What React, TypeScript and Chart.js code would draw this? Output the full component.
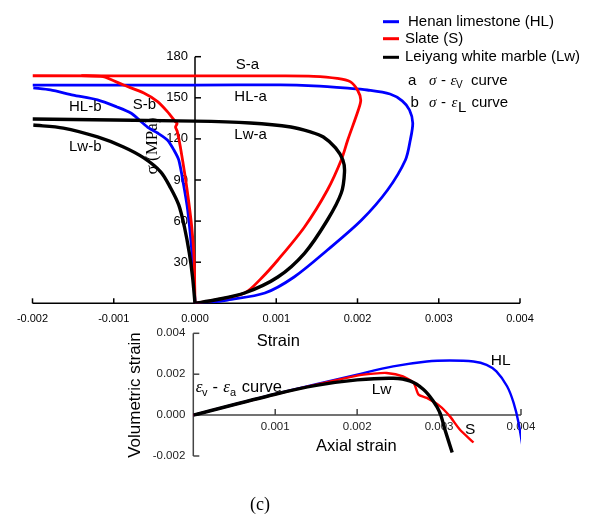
import React, { useEffect, useRef } from 'react';
import { Chart, registerables } from 'chart.js';

Chart.register(...registerables);

// ---------- Top chart: stress (MPa) vs strain ----------
const TOP_X_MIN = -0.002;
const TOP_X_MAX = 0.004;
const TOP_Y_MIN = 0;
const TOP_Y_MAX = 180;
const TOP_X_TICKS = [-0.002, -0.001, 0, 0.001, 0.002, 0.003, 0.004];
const TOP_X_LABELS = ['-0.002', '-0.001', '0.000', '0.001', '0.002', '0.003', '0.004'];
const TOP_Y_TICKS = [30, 60, 90, 120, 150, 180];
const TOP_Y_LABELS = ['30', '60', '90', '120', '150', '180'];

// Henan limestone (HL)
const HL_A_STRAIN = [0, 0.0002, 0.0004, 0.00086, 0.00122, 0.00163, 0.00205, 0.00237, 0.00259, 0.00265, 0.00268, 0.00264, 0.00255, 0.0024, 0.00212, 0.00188, 0.00146, 0.00105, 0, -0.002];
const HL_A_STRESS = [0, 0.8, 2.4, 7.5, 19.2, 38.9, 60.8, 82.7, 104.6, 119.2, 131.6, 141.1, 147.8, 152.8, 155.7, 157.0, 158.7, 159.4, 159.3, 159.3];
const HL_B_STRAIN = [-0.00199, -0.00178, -0.0015, -0.0012, -0.00096, -0.00079, -0.00067, -0.00057, -0.00046, -0.00034, -0.00026, -0.0002, -0.00014, -0.00009, -0.00004, -0.00001, 0];
const HL_B_STRESS = [157.2, 155.7, 152.0, 148.5, 143.3, 138.9, 133.0, 128.0, 124.3, 119.2, 111.9, 104.6, 86.4, 68.1, 38.9, 13.4, 0];

// Slate (S)
const S_A_STRAIN = [0, 0.00024, 0.00061, 0.00082, 0.00102, 0.00135, 0.00163, 0.0018, 0.00188, 0.00201, 0.00204, 0.002, 0.00191, 0.00175, 0.00146, 0.00105, 0, -0.002];
const S_A_STRESS = [0, 2.4, 7.5, 18.5, 31.6, 55.9, 82.7, 104.6, 119.2, 141.1, 148.4, 155.7, 161.8, 164.2, 165.7, 166.0, 166.0, 166.1];
const S_B_STRAIN = [-0.0014, -0.00113, -0.00088, -0.00063, -0.00046, -0.00034, -0.00024, -0.00022, -0.00024, -0.00022, -0.00018, -0.00012, -0.00008, -0.00004, -0.00001, 0];
const S_B_STRESS = [166.2, 165.4, 159.3, 153.5, 147.2, 139.9, 132.5, 131.2, 128.7, 125.8, 114.1, 92.2, 75.4, 55.7, 31.6, 0];

// Leiyang white marble (Lw)
const LW_A_STRAIN = [0, 0.00024, 0.00061, 0.00102, 0.00135, 0.00163, 0.0018, 0.00184, 0.00182, 0.00173, 0.00158, 0.00142, 0.00118, 0.00068, 0, -0.002];
const LW_A_STRESS = [0, 2.4, 7.5, 19.2, 36.7, 60.8, 80.5, 95.8, 104.6, 113.4, 121.4, 125.1, 128.7, 131.6, 133.0, 134.5];
const LW_B_STRAIN = [-0.00199, -0.00162, -0.0012, -0.00088, -0.00063, -0.00042, -0.0003, -0.0002, -0.00013, -0.00007, -0.00003, 0];
const LW_B_STRESS = [130.1, 127.9, 121.4, 114.1, 106.1, 95.8, 84.2, 71.8, 55.7, 36.7, 19.2, 0];

// ---------- Bottom chart: volumetric strain vs axial strain ----------
const BOT_X_MIN = 0;
const BOT_X_MAX = 0.004;
const BOT_Y_MIN = -0.002;
const BOT_Y_MAX = 0.004;
const BOT_X_TICKS = [0.001, 0.002, 0.003, 0.004];
const BOT_X_LABELS = ['0.001', '0.002', '0.003', '0.004'];
const BOT_Y_TICKS = [-0.002, 0, 0.002, 0.004];
const BOT_Y_LABELS = ['-0.002', '0.000', '0.002', '0.004'];

const HL_AXIAL = [0, 0.001, 0.002, 0.00244, 0.00285, 0.00313, 0.00342, 0.00358, 0.0037, 0.00383, 0.00391, 0.00397, 0.00403];
const HL_VOL = [0, 0.00103, 0.00198, 0.00238, 0.00262, 0.00267, 0.00262, 0.00246, 0.00214, 0.00141, 0.0006, -0.00037, -0.00183];
const S_AXIAL = [0, 0.001, 0.002, 0.0022, 0.00236, 0.00256, 0.00269, 0.00275, 0.00285, 0.00301, 0.00313, 0.00325, 0.00342];
const S_VOL = [0, 0.00102, 0.00193, 0.00203, 0.00206, 0.00189, 0.00157, 0.001, 0.00084, 0.00044, -0.00005, -0.00069, -0.00134];
const LW_AXIAL = [0, 0.001, 0.0015, 0.002, 0.00244, 0.00265, 0.00281, 0.00293, 0.00301, 0.00307, 0.00316];
const LW_VOL = [0, 0.00102, 0.00145, 0.00172, 0.0018, 0.00166, 0.00125, 0.00068, 0.00012, -0.00069, -0.00183];

const BLUE = '#0000ff';
const RED = '#ff0000';
const BLACK = '#000000';
const SANS = '"Liberation Sans", Arial, sans-serif';
const SERIF = '"Liberation Serif", "Times New Roman", serif';

function pts(xs: number[], ys: number[]) {
  return xs.map((x, i) => ({ x, y: ys[i] }));
}

function ds(xs: number[], ys: number[], color: string, width: number, tension = 0.3) {
  return {
    data: pts(xs, ys),
    borderColor: color,
    backgroundColor: color,
    borderWidth: width,
    showLine: true,
    pointRadius: 0,
    tension,
    fill: false,
  };
}

function text(ctx: CanvasRenderingContext2D, s: string, x: number, y: number, font: string,
  align: CanvasTextAlign = 'left', base: CanvasTextBaseline = 'middle', color = '#000') {
  ctx.font = font;
  ctx.textAlign = align;
  ctx.textBaseline = base;
  ctx.fillStyle = color;
  ctx.fillText(s, x, y);
}

function seg(ctx: CanvasRenderingContext2D, x1: number, y1: number, x2: number, y2: number) {
  ctx.beginPath();
  ctx.moveTo(x1, y1);
  ctx.lineTo(x2, y2);
  ctx.stroke();
}

const topAxes = {
  id: 'topAxes',
  beforeDatasetsDraw(chart: any) {
    const { ctx } = chart;
    const xs = chart.scales.x;
    const ys = chart.scales.y;
    const y0 = ys.getPixelForValue(0);
    const x0 = xs.getPixelForValue(0);
    ctx.save();
    ctx.strokeStyle = '#000';
    ctx.lineWidth = 1.5;
    seg(ctx, xs.getPixelForValue(TOP_X_MIN), y0, xs.getPixelForValue(TOP_X_MAX), y0);
    TOP_X_TICKS.forEach((t, i) => {
      const px = xs.getPixelForValue(t);
      seg(ctx, px, y0, px, y0 - 5);
      text(ctx, TOP_X_LABELS[i], px, y0 + 16, `11px ${SANS}`, 'center');
    });
    seg(ctx, x0, ys.getPixelForValue(TOP_Y_MIN), x0, ys.getPixelForValue(TOP_Y_MAX));
    TOP_Y_TICKS.forEach((t, i) => {
      const py = ys.getPixelForValue(t);
      seg(ctx, x0, py, x0 + 6, py);
      text(ctx, TOP_Y_LABELS[i], x0 - 7, py, `13px ${SANS}`, 'right');
    });
    // y-axis title
    ctx.save();
    ctx.translate(153, 146);
    ctx.rotate(-Math.PI / 2);
    text(ctx, 'σ (MPa)', 0, 0, `17px ${SERIF}`, 'center');
    ctx.restore();
    ctx.restore();
  },
  afterDraw(chart: any) {
    const { ctx } = chart;
    ctx.save();
    // legend
    const legend: [string, string, number, number][] = [
      [BLUE, 'Henan limestone (HL)', 21.7, 408],
      [RED, 'Slate (S)', 38.7, 405],
      [BLACK, 'Leiyang white marble (Lw)', 57.3, 405],
    ];
    legend.forEach(([c, s, y, tx]) => {
      ctx.strokeStyle = c;
      ctx.lineWidth = 3;
      seg(ctx, 383, y, 399, y);
      text(ctx, s, tx, y, `15px ${SANS}`);
    });
    // a / b rows
    text(ctx, 'a', 408, 85, `15px ${SANS}`, 'left', 'alphabetic');
    text(ctx, 'σ', 429, 85, `italic 15px ${SERIF}`, 'left', 'alphabetic');
    text(ctx, '-', 441, 85, `15px ${SANS}`, 'left', 'alphabetic');
    text(ctx, 'ε', 450.5, 85, `italic 15px ${SERIF}`, 'left', 'alphabetic');
    text(ctx, 'V', 456, 88, `10px ${SANS}`, 'left', 'alphabetic');
    text(ctx, 'curve', 471, 85, `15px ${SANS}`, 'left', 'alphabetic');

    text(ctx, 'b', 410.5, 106.5, `15px ${SANS}`, 'left', 'alphabetic');
    text(ctx, 'σ', 429, 106.5, `italic 15px ${SERIF}`, 'left', 'alphabetic');
    text(ctx, '-', 441, 106.5, `15px ${SANS}`, 'left', 'alphabetic');
    text(ctx, 'ε', 451.5, 106.5, `italic 15px ${SERIF}`, 'left', 'alphabetic');
    text(ctx, 'L', 458, 111.5, `15px ${SANS}`, 'left', 'alphabetic');
    text(ctx, 'curve', 471.5, 106.5, `15px ${SANS}`, 'left', 'alphabetic');

    // curve labels
    const f = `15px ${SANS}`;
    text(ctx, 'S-a', 235.7, 65, f);
    text(ctx, 'HL-a', 234.3, 96.7, f);
    text(ctx, 'Lw-a', 234.3, 135, f);
    text(ctx, 'HL-b', 69, 107.3, f);
    text(ctx, 'S-b', 132.7, 105, f);
    text(ctx, 'Lw-b', 69, 146.7, f);
    ctx.restore();
  },
};

const botAxes = {
  id: 'botAxes',
  beforeDatasetsDraw(chart: any) {
    const { ctx } = chart;
    const xs = chart.scales.x;
    const ys = chart.scales.y;
    const y0 = ys.getPixelForValue(0);
    const x0 = xs.getPixelForValue(0);
    ctx.save();
    ctx.strokeStyle = '#444';
    ctx.lineWidth = 1.5;
    seg(ctx, x0, y0, xs.getPixelForValue(BOT_X_MAX), y0);
    BOT_X_TICKS.forEach((t, i) => {
      const px = xs.getPixelForValue(t);
      seg(ctx, px, y0, px, y0 - 6);
      text(ctx, BOT_X_LABELS[i], px, y0 + 12, `11.5px ${SANS}`, 'center', 'middle', '#222');
    });
    seg(ctx, x0, ys.getPixelForValue(BOT_Y_MIN), x0, ys.getPixelForValue(BOT_Y_MAX));
    BOT_Y_TICKS.forEach((t, i) => {
      const py = ys.getPixelForValue(t);
      seg(ctx, x0, py, x0 + 6, py);
      text(ctx, BOT_Y_LABELS[i], x0 - 8, py, `11.5px ${SANS}`, 'right', 'middle', '#222');
    });
    ctx.restore();
  },
  afterDraw(chart: any) {
    const { ctx } = chart;
    ctx.save();
    text(ctx, 'Strain', 256.7, 341.7, `16.5px ${SANS}`);
    text(ctx, 'Axial strain', 316, 446.7, `16.5px ${SANS}`);
    ctx.save();
    ctx.translate(135.5, 395);
    ctx.rotate(-Math.PI / 2);
    text(ctx, 'Volumetric strain', 0, 0, `17px ${SANS}`, 'center');
    ctx.restore();
    // εv - εa curve
    text(ctx, 'ε', 195.7, 391.7, `italic 17px ${SERIF}`, 'left', 'alphabetic');
    text(ctx, 'v', 202, 395.5, `11px ${SANS}`, 'left', 'alphabetic');
    text(ctx, '-', 212.5, 391.7, `16.5px ${SANS}`, 'left', 'alphabetic');
    text(ctx, 'ε', 223.3, 391.7, `italic 17px ${SERIF}`, 'left', 'alphabetic');
    text(ctx, 'a', 230, 395.5, `11px ${SANS}`, 'left', 'alphabetic');
    text(ctx, 'curve', 241.7, 391.7, `16.5px ${SANS}`, 'left', 'alphabetic');
    text(ctx, 'Lw', 371.7, 389.3, `15.5px ${SANS}`);
    text(ctx, 'HL', 490.7, 361, `15.5px ${SANS}`);
    text(ctx, 'S', 465, 430, `15.5px ${SANS}`);
    text(ctx, '(c)', 250, 510, `18px ${SERIF}`, 'left', 'alphabetic');
    ctx.restore();
  },
};

const common = {
  responsive: false,
  animation: false as const,
  events: [] as any[],
  plugins: { legend: { display: false }, tooltip: { enabled: false } },
};

export default function App() {
  const topRef = useRef<HTMLCanvasElement>(null);
  const botRef = useRef<HTMLCanvasElement>(null);

  useEffect(() => {
    const c1 = new Chart(topRef.current as HTMLCanvasElement, {
      type: 'scatter',
      data: {
        datasets: [
          ds(LW_A_STRAIN, LW_A_STRESS, BLACK, 3.4),
          ds(LW_B_STRAIN, LW_B_STRESS, BLACK, 3.4),
          ds(S_A_STRAIN, S_A_STRESS, RED, 2.8),
          ds(S_B_STRAIN, S_B_STRESS, RED, 2.8, 0.2),
          ds(HL_A_STRAIN, HL_A_STRESS, BLUE, 2.8),
          ds(HL_B_STRAIN, HL_B_STRESS, BLUE, 2.8, 0.25),
        ] as any,
      },
      options: {
        ...common,
        layout: { padding: { left: 32.5, top: 56.7, right: 72, bottom: 213.7 } },
        scales: {
          x: { type: 'linear', min: TOP_X_MIN, max: TOP_X_MAX, display: false },
          y: { type: 'linear', min: TOP_Y_MIN, max: TOP_Y_MAX, display: false },
        },
      } as any,
      plugins: [topAxes],
    });
    const c2 = new Chart(botRef.current as HTMLCanvasElement, {
      type: 'scatter',
      data: {
        datasets: [
          ds(LW_AXIAL, LW_VOL, BLACK, 3.4, 0.3),
          ds(S_AXIAL, S_VOL, RED, 2.4, 0.2),
          ds(HL_AXIAL, HL_VOL, BLUE, 2.4, 0.3),
        ] as any,
      },
      options: {
        ...common,
        layout: { padding: { left: 193.3, top: 333.3, right: 71, bottom: 61 } },
        scales: {
          x: { type: 'linear', min: BOT_X_MIN, max: BOT_X_MAX, display: false },
          y: { type: 'linear', min: BOT_Y_MIN, max: BOT_Y_MAX, display: false },
        },
      } as any,
      plugins: [botAxes],
    });
    return () => {
      c1.destroy();
      c2.destroy();
    };
  }, []);

  return (
    <div style={{ position: 'fixed', left: 0, top: 0, width: 592, height: 517, background: '#fff' }}>
      <canvas ref={topRef} width={592} height={517} style={{ position: 'absolute', left: 0, top: 0 }} />
      <canvas ref={botRef} width={592} height={517} style={{ position: 'absolute', left: 0, top: 0 }} />
    </div>
  );
}
